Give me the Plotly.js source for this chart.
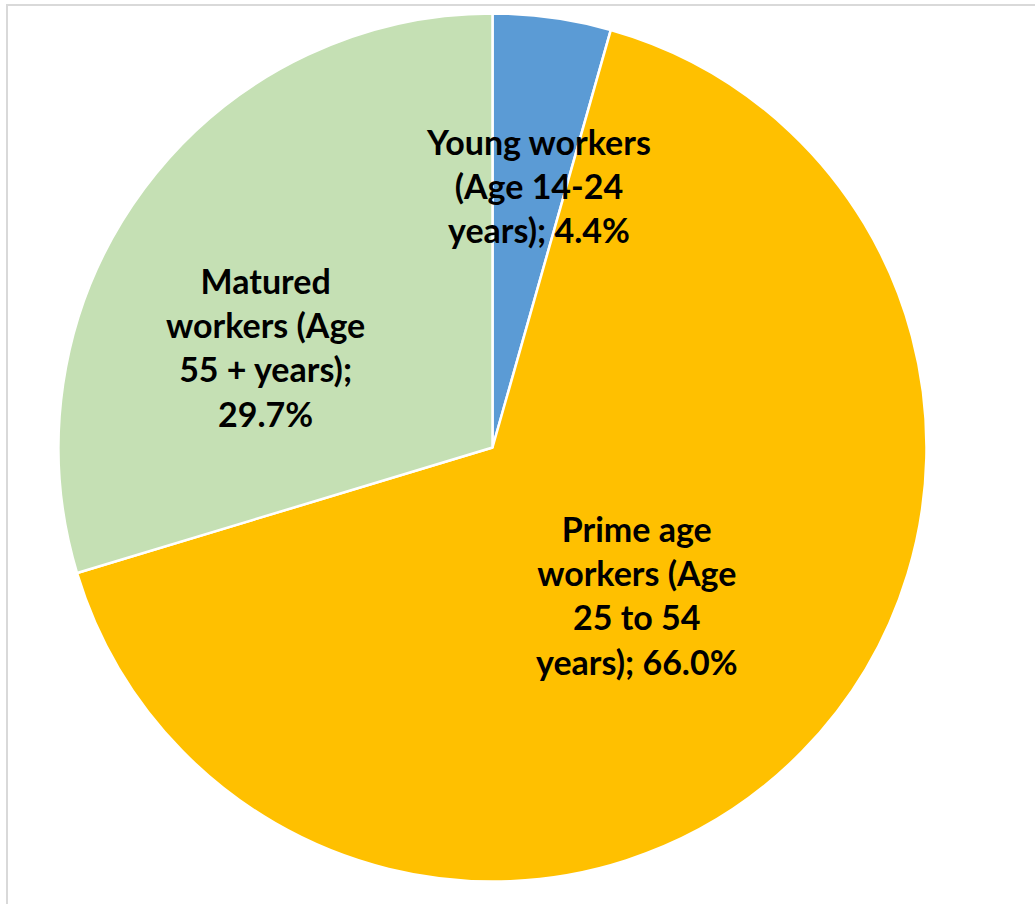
<!DOCTYPE html>
<html>
<head>
<meta charset="utf-8">
<script src="https://cdn.plot.ly/plotly-3.0.1.min.js"></script>
<style>
  html, body { margin: 0; padding: 0; background: #ffffff; }
  #chart { width: 1035px; height: 904px; }
</style>
</head>
<body>
<div id="chart"></div>
<script>
// Data
const categories = [
  "Young workers (Age 14-24 years)",
  "Prime age workers (Age 25 to 54 years)",
  "Matured workers (Age 55 + years)"
];
const shares = [4.4, 66.0, 29.7];
const sliceColors = ["#5B9BD5", "#FFC000", "#C5E0B4"];
const labelTexts = [
  "Young workers<br>(Age 14-24<br>years); 4.4%",
  "Prime age<br>workers (Age<br>25 to 54<br>years); 66.0%",
  "Matured<br>workers (Age<br>55 + years);<br>29.7%"
];

const W = 1035, H = 904;
const cx = 492.5, cy = 447.5, R = 434;

const trace = {
  type: "pie",
  labels: categories,
  values: shares,
  sort: false,
  direction: "clockwise",
  rotation: 0,
  textinfo: "none",
  hoverinfo: "label+percent",
  marker: { colors: sliceColors, line: { color: "#ffffff", width: 2.5 } },
  domain: {
    x: [(cx - R) / W, (cx + R) / W],
    y: [(H - cy - R) / H, (H - cy + R) / H]
  },
  showlegend: false
};

// label anchor positions (pixels in the figure)
const labelPos = [[538, 186], [637, 595], [265, 347]];
const annotations = labelTexts.map((t, i) => ({
  text: t,
  xref: "paper", yref: "paper",
  x: labelPos[i][0] / W,
  y: 1 - labelPos[i][1] / H,
  xanchor: "center", yanchor: "middle",
  showarrow: false,
  align: "center",
  font: { family: "Lato, 'Open Sans', sans-serif", size: 34, color: "#000000", weight: "bold" }
}));

const layout = {
  width: W, height: H,
  margin: { l: 0, r: 0, t: 0, b: 0 },
  paper_bgcolor: "#ffffff",
  annotations: annotations,
  shapes: [{
    type: "rect", xref: "paper", yref: "paper",
    x0: 7 / W, x1: 1.05, y0: -0.05, y1: 1 - 5 / H,
    line: { color: "#d9d9d9", width: 2 }, fillcolor: "rgba(0,0,0,0)"
  }]
};

Plotly.newPlot("chart", [trace], layout, { displayModeBar: false, staticPlot: true });
</script>
</body>
</html>
